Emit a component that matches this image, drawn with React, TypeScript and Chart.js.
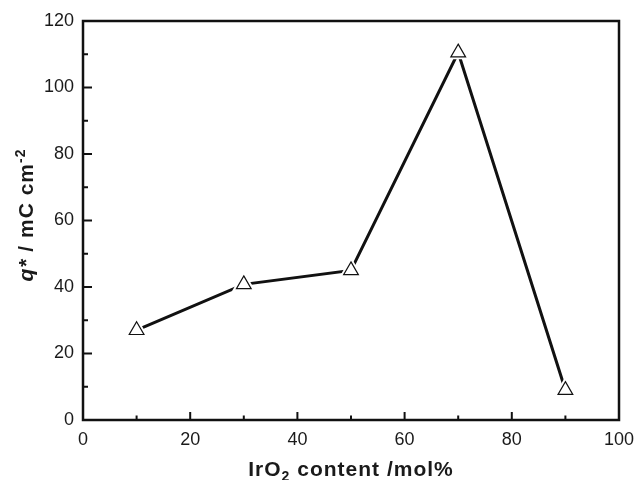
import React, { useEffect, useRef } from "react";
import { Chart, registerables } from "chart.js";

Chart.register(...registerables);

const irO2Content = [10, 30, 50, 70, 90];
const chargeQ = [27, 40.8, 45, 110.5, 9];
const xTickValues = [0, 20, 40, 60, 80, 100];
const yTickValues = [0, 20, 40, 60, 80, 100, 120];
const xMinorTicks = [10, 30, 50, 70, 90];
const yMinorTicks = [10, 30, 50, 70, 90, 110];

const FONT = '"Liberation Sans", Arial, Helvetica, sans-serif';

const framePlugin = {
  id: "frameAndTitles",
  afterDraw(chart: any) {
    const { ctx, chartArea } = chart;
    const xs = chart.scales.x;
    const ys = chart.scales.y;
    const { left, right, top, bottom } = chartArea;
    ctx.save();
    ctx.strokeStyle = "#111";
    ctx.lineWidth = 2;
    ctx.lineCap = "butt";
    ctx.beginPath();
    for (const v of xTickValues) {
      const px = xs.getPixelForValue(v);
      ctx.moveTo(px, bottom);
      ctx.lineTo(px, bottom - 8);
    }
    for (const v of xMinorTicks) {
      const px = xs.getPixelForValue(v);
      ctx.moveTo(px, bottom);
      ctx.lineTo(px, bottom - 4.5);
    }
    for (const v of yTickValues) {
      const py = ys.getPixelForValue(v);
      ctx.moveTo(left, py);
      ctx.lineTo(left + 9, py);
    }
    for (const v of yMinorTicks) {
      const py = ys.getPixelForValue(v);
      ctx.moveTo(left, py);
      ctx.lineTo(left + 5, py);
    }
    ctx.stroke();
    ctx.lineWidth = 2.5;
    ctx.lineJoin = "miter";
    ctx.strokeRect(left, top, right - left, bottom - top);

    ctx.fillStyle = "#1a1a1a";
    ctx.textBaseline = "alphabetic";
    (ctx as any).letterSpacing = "1px";
    const big = `bold 21px ${FONT}`;
    const small = `bold 14px ${FONT}`;
    const xParts = [
      { t: "IrO", f: big, dy: 0 },
      { t: "2", f: small, dy: 5 },
      { t: " content /mol%", f: big, dy: 0 },
    ];
    let total = 0;
    for (const p of xParts) {
      ctx.font = p.f;
      total += ctx.measureText(p.t).width;
    }
    let cx = (left + right) / 2 - total / 2;
    const baseY = 476;
    for (const p of xParts) {
      ctx.font = p.f;
      ctx.textAlign = "left";
      ctx.fillText(p.t, cx, baseY + p.dy);
      cx += ctx.measureText(p.t).width;
    }

    const yParts = [
      { t: "q*", f: `italic bold 21px ${FONT}`, dy: 0 },
      { t: " / mC cm", f: big, dy: 0 },
      { t: "-2", f: small, dy: -8 },
    ];
    total = 0;
    for (const p of yParts) {
      ctx.font = p.f;
      total += ctx.measureText(p.t).width;
    }
    ctx.translate(33, 215);
    ctx.rotate(-Math.PI / 2);
    let cy = -total / 2;
    for (const p of yParts) {
      ctx.font = p.f;
      ctx.textAlign = "left";
      ctx.fillText(p.t, cy, p.dy);
      cy += ctx.measureText(p.t).width;
    }
    ctx.restore();
  },
};

export default function App() {
  const canvasRef = useRef<HTMLCanvasElement | null>(null);

  useEffect(() => {
    if (!canvasRef.current) return;
    const points = irO2Content.map((x, i) => ({ x, y: chargeQ[i] }));
    const chart = new Chart(canvasRef.current, {
      type: "line",
      data: {
        datasets: [
          {
            label: "line",
            data: points,
            borderColor: "#111",
            borderWidth: 3,
            pointRadius: 0,
            tension: 0,
            fill: false,
            order: 3,
          },
          {
            label: "halo",
            data: points,
            showLine: false,
            pointStyle: "triangle",
            pointRadius: 8.5,
            pointBackgroundColor: "#fff",
            pointBorderColor: "#fff",
            pointBorderWidth: 5,
            order: 2,
          },
          {
            label: "q*",
            data: points,
            showLine: false,
            pointStyle: "triangle",
            pointRadius: 8.5,
            pointBackgroundColor: "#fff",
            pointBorderColor: "#111",
            pointBorderWidth: 1.2,
            order: 1,
          },
        ],
      },
      options: {
        responsive: false,
        animation: false,
        layout: { padding: { top: 21, right: 17, left: 0, bottom: 0 } },
        plugins: {
          legend: { display: false },
          tooltip: { enabled: false },
        },
        scales: {
          x: {
            type: "linear",
            min: 0,
            max: 100,
            grid: { display: false, drawTicks: false, tickLength: 0 },
            border: { display: false },
            ticks: {
              stepSize: 20,
              padding: 9,
              color: "#1a1a1a",
              font: { family: FONT, size: 18 },
            },
            afterFit(scale: any) {
              scale.height = 60;
              scale.paddingLeft = 0;
              scale.paddingRight = 0;
            },
          },
          y: {
            type: "linear",
            min: 0,
            max: 120,
            grid: { display: false, drawTicks: false, tickLength: 0 },
            border: { display: false },
            ticks: {
              stepSize: 20,
              padding: 9,
              color: "#1a1a1a",
              font: { family: FONT, size: 18 },
            },
            afterFit(scale: any) {
              scale.width = 83;
              scale.paddingTop = 0;
              scale.paddingBottom = 0;
            },
          },
        },
      },
      plugins: [framePlugin],
    });
    return () => chart.destroy();
  }, []);

  return (
    <div style={{ position: "absolute", left: 0, top: 0, width: 636, height: 480, background: "#fff" }}>
      <canvas ref={canvasRef} width={636} height={480} />
    </div>
  );
}
